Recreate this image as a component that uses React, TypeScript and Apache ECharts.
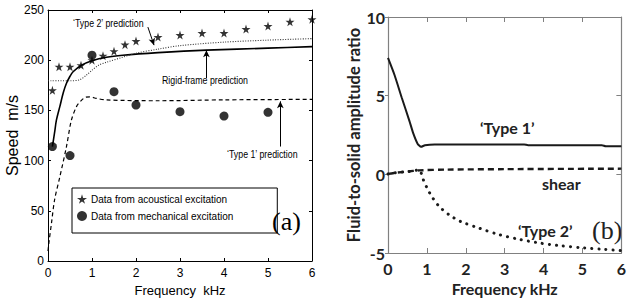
import React, { useEffect, useRef } from "react";
import * as echarts from "echarts";

// ---------- Panel (a): speed vs frequency ----------
const acousticData: [number, number][] = [
  [0.1, 170], [0.25, 193.5], [0.5, 193.5], [0.75, 195], [1.0, 200], [1.25, 204.5],
  [1.5, 209], [1.75, 215.5], [2.0, 219], [2.5, 223], [3.0, 225], [3.5, 227],
  [4.0, 227], [4.5, 231], [5.0, 234], [5.5, 238.3], [6.0, 240.7],
];
const mechanicalData: [number, number][] = [
  [0.1, 114], [0.5, 105], [1.0, 205], [1.5, 168.6], [2.0, 155.4], [3.0, 148.7],
  [4.0, 144.4], [5.0, 148.1],
];
const rigidFrame: [number, number][] = [
  [0.1, 114], [0.15, 128], [0.19, 140], [0.27, 154], [0.35, 168], [0.42, 177],
  [0.5, 184], [0.57, 188.5], [0.76, 195], [1.0, 199.5], [1.33, 203], [1.7, 205],
  [2.5, 207.5], [3.6, 210], [5.0, 212], [6.0, 213.5],
];
const type1Pred: [number, number][] = [
  [0, 10], [0.02, 18], [0.08, 38], [0.15, 61], [0.27, 84], [0.42, 114], [0.53, 140],
  [0.65, 154], [0.76, 160], [0.85, 163], [0.95, 163.5], [1.1, 162], [1.33, 160.4],
  [2.5, 159.6], [4.0, 160.5], [6.0, 161],
];
const type2Pred: [number, number][] = [
  [0, 179.5], [0.5, 179.5], [0.72, 180.5], [0.87, 185], [1.0, 190], [1.15, 195],
  [1.33, 198], [1.7, 203], [2.0, 207], [2.5, 211], [3.0, 214.5], [4.0, 218],
  [5.0, 220], [6.0, 221.5],
];
// arrows (data coordinates): [from, to]
const arrowType2: [number, number][] = [[2.27, 233], [2.41, 215]];
const arrowRigid: [number, number][] = [[3.6, 182], [3.6, 210]];
const arrowType1: [number, number][] = [[5.28, 114], [5.28, 159]];

// ---------- Panel (b): amplitude ratio ----------
const ratioType1: [number, number][] = [
  [0, 7.4], [0.17, 6.3], [0.35, 4.9], [0.55, 3.4], [0.65, 2.6], [0.76, 1.95],
  [0.85, 1.75], [0.95, 1.85], [1.2, 1.9], [2.0, 1.9], [3.5, 1.9], [3.6, 1.85],
  [5.5, 1.85], [5.6, 1.78], [6.0, 1.78],
];
const ratioShear: [number, number][] = [
  [0, 0.03], [0.2, 0.1], [0.5, 0.18], [0.8, 0.25], [1.5, 0.3], [3.0, 0.33], [6.0, 0.36],
];
const ratioType2: [number, number][] = [
  [0, 0.02], [0.2, 0.1], [0.4, 0.15], [0.6, 0.2], [0.8, 0.28], [0.9, -0.3],
  [1.02, -0.95], [1.15, -1.5], [1.32, -2.05], [1.57, -2.57], [1.87, -3.0],
  [2.33, -3.41], [2.84, -3.82], [3.35, -4.12], [3.86, -4.35], [4.37, -4.52],
  [5.05, -4.68], [5.5, -4.76], [6.0, -4.85],
];

const xTicks = [0, 1, 2, 3, 4, 5, 6];

const STAR = "path://M50,0 L61,35 L98,35 L68,57 L79,91 L50,70 L21,91 L32,57 L2,35 L39,35 Z";
const SANS = "'Liberation Sans', Arial, sans-serif";
const BOLD = "Lato, 'Open Sans', sans-serif";
const SERIF = "'Liberation Serif', 'Times New Roman', serif";

export default function App() {
  const ref = useRef<HTMLDivElement>(null);
  useEffect(() => {
    document.body.style.margin = "0";
    if (!ref.current) return;
    const chart = echarts.init(ref.current, null, { renderer: "svg" });

    const boxAxisA = (pos: string) => ({
      axisLine: { show: true, onZero: false, lineStyle: { color: "#000", width: 1 } },
      axisTick: { show: true, inside: true, length: 3, lineStyle: { color: "#000" } },
      splitLine: { show: false },
      position: pos,
    });
    const boxAxisB = (pos: string) => ({
      axisLine: { show: true, onZero: false, lineStyle: { color: "#808080", width: 1.2 } },
      axisTick: { show: true, inside: true, length: 5, lineStyle: { color: "#808080" } },
      splitLine: { show: false },
      position: pos,
    });

    const arrowLine = (pts: [number, number][]) => ({
      silent: true,
      symbol: ["none", "arrow"],
      symbolSize: [5, 7],
      label: { show: false },
      lineStyle: { color: "#000", width: 1, type: "solid" },
      emphasis: { disabled: true },
      data: [[{ coord: pts[0] }, { coord: pts[1] }]],
    });

    const note = (text: string, x: number, y: number) => ({
      type: "text", x, y, scaleX: 0.8,
      style: { text, font: `11px ${SANS}`, fill: "#000", verticalAlign: "middle" },
    });

    chart.setOption({
      animation: false,
      backgroundColor: "#fff",
      grid: [
        { left: 48, top: 10, width: 264, height: 251 },
        { left: 388, top: 17, width: 236, height: 236 },
      ],
      xAxis: [
        {
          gridIndex: 0, type: "value", min: 0, max: 6, interval: 1,
          ...boxAxisA("bottom"),
          axisLabel: { margin: 6, fontFamily: SANS, fontSize: 12, color: "#000", formatter: (v: number) => (xTicks.includes(v) ? String(v) : "") },
          name: "Frequency  kHz", nameLocation: "middle", nameGap: 22,
          nameTextStyle: { fontFamily: SANS, fontSize: 13, color: "#000" },
        },
        { gridIndex: 0, type: "value", min: 0, max: 6, interval: 1, ...boxAxisA("top"), axisLabel: { show: false } },
        {
          gridIndex: 1, type: "value", min: 0, max: 6, interval: 1,
          ...boxAxisB("bottom"),
          axisLabel: { margin: 7, fontFamily: BOLD, fontWeight: "bold", fontSize: 16, color: "#222" },
          name: "Frequency kHz", nameLocation: "middle", nameGap: 27,
          nameTextStyle: { fontFamily: BOLD, fontWeight: "bold", fontSize: 16, color: "#222" },
        },
        { gridIndex: 1, type: "value", min: 0, max: 6, interval: 1, ...boxAxisB("top"), axisLabel: { show: false } },
      ],
      yAxis: [
        {
          gridIndex: 0, type: "value", min: 0, max: 250, interval: 50,
          ...boxAxisA("left"),
          axisLabel: { margin: 4, fontFamily: SANS, fontSize: 12, color: "#000" },
          name: "Speed  m/s", nameLocation: "middle", nameGap: 25,
          nameTextStyle: { fontFamily: SANS, fontSize: 16, color: "#000" },
        },
        { gridIndex: 0, type: "value", min: 0, max: 250, interval: 50, ...boxAxisA("right"), axisLabel: { show: false } },
        {
          gridIndex: 1, type: "value", min: -5, max: 10, interval: 5,
          ...boxAxisB("left"),
          axisTick: { show: true, inside: false, length: 3, lineStyle: { color: "#808080" } },
          axisLabel: { margin: 3, fontFamily: BOLD, fontWeight: "bold", fontSize: 16, color: "#222" },
          name: "Fluid-to-solid amplitude ratio", nameLocation: "middle", nameGap: 21,
          nameTextStyle: { fontFamily: BOLD, fontWeight: "bold", fontSize: 16.5, color: "#222" },
        },
        { gridIndex: 1, type: "value", min: -5, max: 10, interval: 5, ...boxAxisB("right"), axisLabel: { show: false } },
      ],
      legend: {
        left: 72, top: 188, orient: "vertical",
        data: ["Data from acoustical excitation", "Data from mechanical excitation"],
        borderColor: "#000", borderWidth: 1, borderRadius: 0,
        padding: [6, 44, 12, 5],
        itemGap: 7, itemWidth: 10, itemHeight: 10, itemStyle: { color: "#000" },
        textStyle: { fontFamily: SANS, fontSize: 10, color: "#000", padding: [0, 0, 0, -1] },
        selectedMode: false,
      },
      series: [
        {
          name: "Data from acoustical excitation", type: "scatter", xAxisIndex: 0, yAxisIndex: 0,
          symbol: STAR, symbolSize: 9, itemStyle: { color: "#000" }, data: acousticData, z: 5,
        },
        {
          name: "Data from mechanical excitation", type: "scatter", xAxisIndex: 0, yAxisIndex: 0,
          symbol: "circle", symbolSize: 9, itemStyle: { color: "#000" }, data: mechanicalData, z: 5,
        },
        {
          name: "Rigid-frame", type: "line", xAxisIndex: 0, yAxisIndex: 0, showSymbol: false, smooth: 0.3,
          lineStyle: { color: "#000", width: 1.6 }, data: rigidFrame, markLine: arrowLine(arrowRigid),
        },
        {
          name: "Type 1", type: "line", xAxisIndex: 0, yAxisIndex: 0, showSymbol: false, smooth: 0.3,
          lineStyle: { color: "#000", width: 1.2, type: [4, 3] }, data: type1Pred, markLine: arrowLine(arrowType1),
        },
        {
          name: "Type 2", type: "line", xAxisIndex: 0, yAxisIndex: 0, showSymbol: false, smooth: 0.3,
          lineStyle: { color: "#333", width: 1.1, type: [1, 1.5] }, data: type2Pred, markLine: arrowLine(arrowType2),
        },
        {
          name: "B Type 1", type: "line", xAxisIndex: 2, yAxisIndex: 2, showSymbol: false, smooth: 0.2,
          lineStyle: { color: "#1a1a1a", width: 2 }, data: ratioType1,
        },
        {
          name: "B shear", type: "line", xAxisIndex: 2, yAxisIndex: 2, showSymbol: false, smooth: 0.3,
          lineStyle: { color: "#1a1a1a", width: 2.4, type: [6, 4] }, data: ratioShear,
        },
        {
          name: "B Type 2", type: "line", xAxisIndex: 2, yAxisIndex: 2, showSymbol: false, smooth: 0.3,
          lineStyle: { color: "#1a1a1a", width: 3, type: [0.1, 7], cap: "round" }, data: ratioType2,
        },
      ],
      graphic: [
        note("\u2018Type 2\u2019 prediction", 73, 23),
        note("Rigid-frame prediction", 162, 80),
        note("\u2018Type 1\u2019 prediction", 227, 154),
        { type: "text", x: 272, y: 221, style: { text: "(a)", font: `26px ${SERIF}`, fill: "#000", verticalAlign: "middle" } },
        { type: "text", x: 480, y: 127, style: { text: "\u2018Type 1\u2019", font: `bold 16px ${BOLD}`, fill: "#222", verticalAlign: "middle" } },
        { type: "text", x: 542, y: 183, style: { text: "shear", font: `bold 16px ${BOLD}`, fill: "#222", verticalAlign: "middle" } },
        { type: "text", x: 518, y: 230, style: { text: "\u2018Type 2\u2019", font: `bold 16px ${BOLD}`, fill: "#222", verticalAlign: "middle" } },
        { type: "text", x: 592, y: 230, style: { text: "(b)", font: `26px ${SERIF}`, fill: "#222", verticalAlign: "middle" } },
      ],
    });
    return () => chart.dispose();
  }, []);
  return <div ref={ref} style={{ width: 629, height: 302, position: "absolute", left: 0, top: 0 }} />;
}
